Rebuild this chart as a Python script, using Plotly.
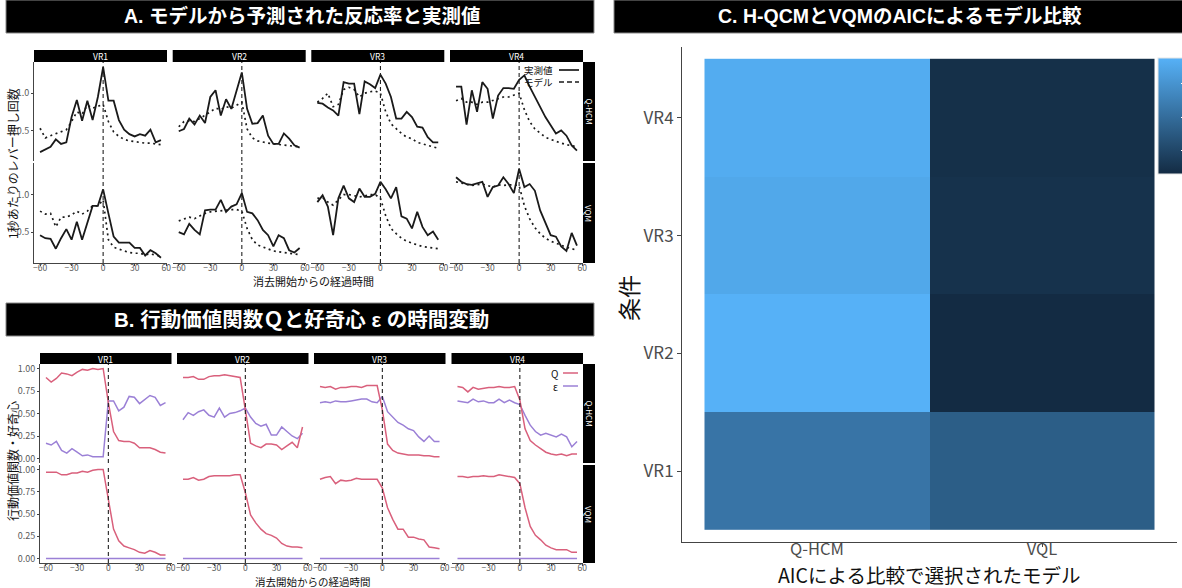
import plotly.graph_objects as go

W, H = 1182, 588
FONT = "Noto Sans CJK JP, Noto Sans, sans-serif"
TITLE_FONT = "Liberation Sans, Noto Sans CJK JP, sans-serif"

# ---------------------------------------------------------------- data
TIME = list(range(-60, 60, 5))
CONDS = ["VR1", "VR2", "VR3", "VR4"]
ROW_LABELS = ["Q-HCM", "VQM"]

# A: lever presses per second (observed / model prediction)
a_vr1_hcm_obs = [0.21, 0.25, 0.28, 0.38, 0.32, 0.34, 0.68, 0.91, 0.63, 0.90, 0.64, 0.95, 1.35, 0.90, 0.90, 0.64, 0.51, 0.45, 0.42, 0.45, 0.43, 0.51, 0.34, 0.37]
a_vr1_hcm_mod = [0.53, 0.40, 0.43, 0.46, 0.48, 0.51, 0.62, 0.75, 0.72, 0.84, 0.80, 0.82, 0.85, 0.62, 0.48, 0.42, 0.38, 0.36, 0.35, 0.33, 0.33, 0.33, 0.32, 0.31]
a_vr1_vqm_obs = [0.46, 0.42, 0.41, 0.28, 0.42, 0.54, 0.40, 0.64, 0.40, 0.62, 0.85, 0.85, 1.07, 0.75, 0.44, 0.36, 0.36, 0.36, 0.29, 0.29, 0.19, 0.26, 0.22, 0.16]
a_vr1_vqm_mod = [0.78, 0.74, 0.75, 0.57, 0.70, 0.70, 0.73, 0.78, 0.74, 0.78, 0.85, 0.85, 0.93, 0.40, 0.30, 0.27, 0.25, 0.23, 0.22, 0.22, 0.20, 0.21, 0.19, 0.18]
a_vr2_hcm_obs = [0.49, 0.52, 0.66, 0.58, 0.70, 0.60, 0.95, 1.04, 0.70, 0.92, 0.79, 1.04, 1.28, 0.79, 0.59, 0.60, 0.70, 0.43, 0.32, 0.32, 0.46, 0.39, 0.30, 0.27]
a_vr2_hcm_mod = [0.55, 0.62, 0.63, 0.62, 0.66, 0.70, 0.75, 0.80, 0.78, 0.82, 0.80, 0.84, 0.88, 0.52, 0.40, 0.36, 0.34, 0.33, 0.32, 0.31, 0.30, 0.29, 0.28, 0.28]
a_vr2_vqm_obs = [0.50, 0.47, 0.61, 0.53, 0.47, 0.79, 0.80, 0.80, 0.93, 0.77, 0.84, 0.87, 1.02, 0.77, 0.75, 0.66, 0.53, 0.46, 0.31, 0.46, 0.42, 0.26, 0.23, 0.29]
a_vr2_vqm_mod = [0.65, 0.67, 0.70, 0.68, 0.72, 0.75, 0.77, 0.78, 0.78, 0.80, 0.80, 0.80, 0.78, 0.55, 0.40, 0.33, 0.30, 0.27, 0.25, 0.24, 0.23, 0.22, 0.21, 0.20]
a_vr3_hcm_obs = [0.87, 0.86, 0.81, 0.77, 0.70, 1.15, 1.13, 1.13, 0.72, 1.16, 1.12, 1.07, 1.25, 1.13, 0.95, 0.66, 0.66, 0.75, 0.68, 0.55, 0.54, 0.41, 0.34, 0.34]
a_vr3_hcm_mod = [0.88, 0.93, 1.00, 0.82, 0.85, 1.05, 1.08, 1.05, 0.95, 1.00, 1.02, 1.03, 1.00, 0.75, 0.59, 0.52, 0.46, 0.41, 0.39, 0.34, 0.32, 0.30, 0.28, 0.26]
a_vr3_vqm_obs = [0.90, 0.99, 0.84, 0.46, 0.95, 1.12, 0.95, 0.90, 1.08, 0.97, 0.97, 1.01, 1.17, 1.07, 0.95, 1.10, 0.71, 0.68, 0.55, 0.77, 0.57, 0.46, 0.51, 0.40]
a_vr3_vqm_mod = [0.95, 0.96, 0.90, 0.86, 0.93, 1.00, 1.00, 0.98, 0.97, 0.98, 1.00, 1.00, 0.95, 0.72, 0.55, 0.48, 0.42, 0.38, 0.35, 0.33, 0.31, 0.30, 0.29, 0.28]
a_vr4_hcm_obs = [1.09, 1.09, 0.58, 1.04, 0.75, 1.15, 1.06, 0.66, 0.97, 1.07, 1.07, 1.06, 1.18, 1.24, 1.09, 0.95, 0.81, 0.68, 0.57, 0.46, 0.50, 0.43, 0.30, 0.23]
a_vr4_hcm_mod = [0.90, 0.93, 0.88, 0.88, 0.85, 0.88, 0.88, 0.90, 0.92, 0.95, 0.95, 0.98, 1.00, 0.78, 0.62, 0.52, 0.46, 0.41, 0.38, 0.35, 0.33, 0.31, 0.30, 0.28]
a_vr4_vqm_obs = [1.23, 1.17, 1.14, 1.13, 1.15, 1.17, 0.97, 1.10, 1.12, 1.23, 1.14, 1.02, 1.34, 1.10, 1.14, 1.05, 0.79, 0.62, 0.46, 0.44, 0.31, 0.25, 0.49, 0.32]
a_vr4_vqm_mod = [1.17, 1.15, 1.14, 1.12, 1.13, 1.14, 1.12, 1.10, 1.13, 1.12, 1.13, 1.13, 1.12, 0.85, 0.68, 0.56, 0.48, 0.42, 0.38, 0.35, 0.32, 0.30, 0.28, 0.26]

# B: action value Q and curiosity epsilon
b_vr1_hcm_q = [0.90, 0.85, 0.89, 0.95, 0.94, 0.92, 0.96, 0.99, 0.98, 1.00, 0.99, 1.00, 0.62, 0.30, 0.20, 0.19, 0.19, 0.17, 0.12, 0.12, 0.12, 0.10, 0.07, 0.06]
b_vr1_hcm_eps = [0.17, 0.15, 0.19, 0.09, 0.06, 0.11, 0.07, 0.03, 0.04, 0.02, 0.02, 0.02, 0.64, 0.64, 0.53, 0.57, 0.69, 0.68, 0.61, 0.66, 0.70, 0.68, 0.59, 0.62]
b_vr1_vqm_q = [0.97, 0.97, 0.97, 0.94, 0.94, 0.96, 0.96, 0.98, 0.97, 0.99, 1.00, 1.00, 0.68, 0.33, 0.20, 0.14, 0.12, 0.10, 0.07, 0.06, 0.09, 0.07, 0.04, 0.04]
b_vr2_hcm_q = [0.90, 0.90, 0.91, 0.88, 0.88, 0.91, 0.92, 0.92, 0.93, 0.92, 0.91, 0.90, 0.54, 0.17, 0.14, 0.12, 0.16, 0.16, 0.15, 0.10, 0.14, 0.18, 0.12, 0.35]
b_vr2_hcm_eps = [0.43, 0.51, 0.48, 0.52, 0.54, 0.48, 0.46, 0.56, 0.46, 0.50, 0.51, 0.53, 0.56, 0.46, 0.39, 0.36, 0.38, 0.26, 0.26, 0.35, 0.30, 0.25, 0.22, 0.28]
b_vr2_vqm_q = [0.89, 0.89, 0.91, 0.88, 0.89, 0.92, 0.93, 0.93, 0.93, 0.93, 0.94, 0.94, 0.74, 0.49, 0.40, 0.33, 0.28, 0.26, 0.23, 0.17, 0.14, 0.13, 0.13, 0.12]
b_vr3_hcm_q = [0.80, 0.79, 0.80, 0.77, 0.79, 0.79, 0.80, 0.80, 0.79, 0.81, 0.81, 0.81, 0.54, 0.16, 0.09, 0.06, 0.05, 0.04, 0.04, 0.04, 0.03, 0.03, 0.02, 0.02]
b_vr3_hcm_eps = [0.62, 0.63, 0.62, 0.64, 0.63, 0.63, 0.64, 0.65, 0.66, 0.66, 0.63, 0.62, 0.69, 0.52, 0.46, 0.40, 0.37, 0.33, 0.31, 0.24, 0.19, 0.25, 0.19, 0.19]
b_vr3_vqm_q = [0.89, 0.91, 0.92, 0.84, 0.88, 0.87, 0.88, 0.90, 0.89, 0.89, 0.89, 0.89, 0.79, 0.57, 0.44, 0.33, 0.33, 0.24, 0.24, 0.22, 0.21, 0.13, 0.12, 0.11]
b_vr4_hcm_q = [0.80, 0.79, 0.74, 0.79, 0.77, 0.78, 0.79, 0.79, 0.80, 0.79, 0.79, 0.80, 0.65, 0.33, 0.20, 0.15, 0.11, 0.07, 0.05, 0.04, 0.05, 0.03, 0.05, 0.05]
b_vr4_hcm_eps = [0.64, 0.63, 0.62, 0.66, 0.63, 0.64, 0.62, 0.62, 0.66, 0.62, 0.65, 0.62, 0.60, 0.48, 0.37, 0.30, 0.26, 0.28, 0.26, 0.24, 0.27, 0.24, 0.13, 0.19]
b_vr4_vqm_q = [0.92, 0.92, 0.91, 0.92, 0.92, 0.93, 0.92, 0.92, 0.94, 0.93, 0.92, 0.91, 0.84, 0.57, 0.36, 0.26, 0.21, 0.15, 0.12, 0.10, 0.10, 0.10, 0.07, 0.07]
b_vqm_eps = [0.0] * 24

# C: AIC model comparison (fill value per condition)
C_MODELS = ["Q-HCM", "VQL"]
c_hcm_fill = [11.0, 18.8, 17.6, 18.1]
c_vql_fill = [8.1, 1.55, 2.4, 2.15]

# ---------------------------------------------------------------- helpers
def px(x):
    return x / W


def py(y):
    return 1 - y / H


fig = go.Figure()
layout = {}
shapes = []
annotations = []

BLACK = "#1a1a1a"
TICK_GREY = "#5a5a5a"
Q_COL = "#d9607c"
EPS_COL = "#9b80d6"


def rect(x0, y0, x1, y1, fill, line=None):
    shapes.append(dict(type="rect", xref="paper", yref="paper",
                       x0=px(x0), x1=px(x1), y0=py(y1), y1=py(y0),
                       fillcolor=fill, line=dict(color=line or fill, width=1 if line else 0),
                       layer="above"))


def text(x, y, s, size, color="#111", bold=False, angle=0, xanchor="center", family=FONT):
    annotations.append(dict(xref="paper", yref="paper", x=px(x), y=py(y), text=s,
                            showarrow=False, textangle=angle, xanchor=xanchor, yanchor="middle",
                            font=dict(family=family, size=size, color=color,
                                      weight="bold" if bold else "normal")))


def panel(n, cols, rows, xr, yr, show_x, show_y, yticks, yticktext):
    xk = "xaxis" if n == 1 else f"xaxis{n}"
    yk = "yaxis" if n == 1 else f"yaxis{n}"
    ya = "y" if n == 1 else f"y{n}"
    xa = "x" if n == 1 else f"x{n}"
    layout[xk] = dict(domain=[px(cols[0]), px(cols[1])], range=xr, anchor=ya,
                      showgrid=False, zeroline=False, showline=show_x, linecolor="#444",
                      linewidth=1, ticks="outside" if show_x else "", ticklen=2,
                      tickcolor="#444", showticklabels=show_x, ticklabelstandoff=-5,
                      tickvals=[-60, -30, 0, 30, 60],
                      tickfont=dict(family=FONT, size=8.5, color=TICK_GREY))
    layout[yk] = dict(domain=[py(rows[1]), py(rows[0])], range=yr, anchor=xa,
                      showgrid=False, zeroline=False, showline=show_y, linecolor="#444",
                      linewidth=1, ticks="outside" if show_y else "", ticklen=2,
                      tickcolor="#444", showticklabels=show_y,
                      tickvals=yticks, ticktext=yticktext,
                      tickfont=dict(family=FONT, size=9, color=TICK_GREY))
    shapes.append(dict(type="line", xref=xa, yref=f"{ya} domain", x0=0, x1=0, y0=0, y1=1,
                       line=dict(color="#222", width=1.1, dash="4px,3px")))
    return xa, ya


# ---------------------------------------------------------------- panel A
A_COLS = [(34, 167), (172.7, 305.7), (311.3, 444.3), (450, 583)]
A_ROWS = [(62, 161), (163, 263)]
A_YR = [0.09, 1.42]
XR = [-65.75, 60.75]

a_series = [
    [(a_vr1_hcm_obs, a_vr1_hcm_mod), (a_vr1_vqm_obs, a_vr1_vqm_mod)],
    [(a_vr2_hcm_obs, a_vr2_hcm_mod), (a_vr2_vqm_obs, a_vr2_vqm_mod)],
    [(a_vr3_hcm_obs, a_vr3_hcm_mod), (a_vr3_vqm_obs, a_vr3_vqm_mod)],
    [(a_vr4_hcm_obs, a_vr4_hcm_mod), (a_vr4_vqm_obs, a_vr4_vqm_mod)],
]

n = 0
for ci, cols in enumerate(A_COLS):
    for ri, rows in enumerate(A_ROWS):
        n += 1
        xa, ya = panel(n, cols, rows, XR, A_YR, ri == 1, ci == 0, [0.5, 1.0], ["0.5", "1.0"])
        obs, mod = a_series[ci][ri]
        fig.add_trace(go.Scatter(x=TIME, y=mod, mode="lines", xaxis=xa, yaxis=ya,
                                 line=dict(color=BLACK, width=1.7, dash="2px,3.5px"),
                                 showlegend=False, hoverinfo="skip"))
        fig.add_trace(go.Scatter(x=TIME, y=obs, mode="lines", xaxis=xa, yaxis=ya,
                                 line=dict(color=BLACK, width=1.8),
                                 showlegend=False, hoverinfo="skip"))
    rect(cols[0], 50, cols[1], 62, "black")
    text((cols[0] + cols[1]) / 2, 56, CONDS[ci], 8.5, color="white")

for ri, rows in enumerate(A_ROWS):
    rect(583, rows[0], 595, rows[1], "black")
    text(589, (rows[0] + rows[1]) / 2, ROW_LABELS[ri], 8, color="white", angle=90)

# legend of panel A
text(555, 70, "実測値", 9.5, xanchor="right")
text(555, 82, "モデル", 9.5, xanchor="right")
shapes.append(dict(type="line", xref="paper", yref="paper", x0=px(559), x1=px(579),
                   y0=py(70), y1=py(70), line=dict(color=BLACK, width=1.7)))
shapes.append(dict(type="line", xref="paper", yref="paper", x0=px(559), x1=px(579),
                   y0=py(82), y1=py(82), line=dict(color=BLACK, width=1.7, dash="5px,3px")))

rect(6, 0, 594, 33, "black", line="#888")
text(302, 16.5, "A. モデルから予測された反応率と実測値", 19.5, color="white", bold=True,
     family=TITLE_FONT)
text(313, 281.5, "消去開始からの経過時間", 11)
text(12, 164, "1秒あたりのレバー押し回数", 12, angle=-90)

# ---------------------------------------------------------------- panel B
B_COLS = [(40, 171.5), (177, 308.5), (314, 445.5), (451.5, 583)]
B_ROWS = [(364, 463), (465, 563)]
B_YR = [-0.05, 1.05]

b_series = [
    [(b_vr1_hcm_q, b_vr1_hcm_eps), (b_vr1_vqm_q, b_vqm_eps)],
    [(b_vr2_hcm_q, b_vr2_hcm_eps), (b_vr2_vqm_q, b_vqm_eps)],
    [(b_vr3_hcm_q, b_vr3_hcm_eps), (b_vr3_vqm_q, b_vqm_eps)],
    [(b_vr4_hcm_q, b_vr4_hcm_eps), (b_vr4_vqm_q, b_vqm_eps)],
]

for ci, cols in enumerate(B_COLS):
    for ri, rows in enumerate(B_ROWS):
        n += 1
        xa, ya = panel(n, cols, rows, XR, B_YR, ri == 1, ci == 0,
                       [0, 0.25, 0.5, 0.75, 1.0], ["0.00", "0.25", "0.50", "0.75", "1.00"])
        q, eps = b_series[ci][ri]
        fig.add_trace(go.Scatter(x=TIME, y=eps, mode="lines", xaxis=xa, yaxis=ya,
                                 line=dict(color=EPS_COL, width=1.5),
                                 showlegend=False, hoverinfo="skip"))
        fig.add_trace(go.Scatter(x=TIME, y=q, mode="lines", xaxis=xa, yaxis=ya,
                                 line=dict(color=Q_COL, width=1.5),
                                 showlegend=False, hoverinfo="skip"))
    rect(cols[0], 353, cols[1], 364, "black")
    text((cols[0] + cols[1]) / 2, 358.5, CONDS[ci], 8.5, color="white")

for ri, rows in enumerate(B_ROWS):
    rect(583, rows[0], 595, rows[1], "black")
    text(589, (rows[0] + rows[1]) / 2, ROW_LABELS[ri], 8, color="white", angle=90)

# legend of panel B
text(560, 373, "Q", 10, xanchor="right")
text(560, 386, "ε", 10, xanchor="right")
shapes.append(dict(type="line", xref="paper", yref="paper", x0=px(563), x1=px(578),
                   y0=py(373), y1=py(373), line=dict(color=Q_COL, width=1.5)))
shapes.append(dict(type="line", xref="paper", yref="paper", x0=px(563), x1=px(578),
                   y0=py(386), y1=py(386), line=dict(color=EPS_COL, width=1.5)))

rect(6, 303, 594, 336, "black", line="#888")
text(301, 319.5, "B. 行動価値関数Ｑと好奇心 ε の時間変動", 20.5, color="white", bold=True,
     family=TITLE_FONT)
text(313, 581, "消去開始からの経過時間", 10.5)
text(12, 461, "行動価値関数・好奇心", 12, angle=-90)

# ---------------------------------------------------------------- panel C
n += 1
hx = f"x{n}"
hy = f"y{n}"
z = [[c_hcm_fill[i], c_vql_fill[i]] for i in range(len(CONDS))]
fig.add_trace(go.Heatmap(
    x=C_MODELS, y=CONDS, z=z, xaxis=hx, yaxis=hy,
    colorscale=[[0, "#132B43"], [1, "#56B1F7"]],
    hoverinfo="skip",
    colorbar=dict(x=px(1158), xanchor="left", xpad=0, y=py(58), yanchor="top", ypad=0,
                  len=116 / H, lenmode="fraction", thickness=28, thicknessmode="pixels",
                  outlinewidth=1, outlinecolor="#e6e6e6", ticks="inside", tickcolor="white",
                  ticklen=5, tickvals=[5, 10, 15], showticklabels=False),
))
layout[f"xaxis{n}"] = dict(domain=[px(682), px(1177)], range=[-0.6, 1.6], anchor=hy,
                           type="category", showgrid=False, zeroline=False, showline=True,
                           linecolor="#444", linewidth=1, ticks="outside", ticklen=4,
                           tickcolor="#444", ticklabelstandoff=-12,
                           tickfont=dict(family=FONT, size=16.5, color="#4d4d4d"))
layout[f"yaxis{n}"] = dict(domain=[py(542), py(47)], range=[-0.6, 3.6], anchor=hx,
                           type="category", showgrid=False, zeroline=False, showline=True,
                           linecolor="#444", linewidth=1, ticks="outside", ticklen=4,
                           tickcolor="#444",
                           tickfont=dict(family=FONT, size=17, color="#4d4d4d"))

rect(614, 0, 1190, 33, "black", line="#888")
text(900, 16.5, "C. H-QCMとVQMのAICによるモデル比較", 19.5, color="white", bold=True,
     family=TITLE_FONT)
text(929, 574, "AICによる比較で選択されたモデル", 19.5)
text(628, 298, "条件", 23, angle=-90)

fig.update_layout(
    width=W, height=H,
    margin=dict(l=0, r=0, t=0, b=0, autoexpand=False),
    paper_bgcolor="white", plot_bgcolor="white",
    showlegend=False,
    font=dict(family=FONT),
    shapes=shapes, annotations=annotations,
    **layout,
)

fig.write_html("out.html")
